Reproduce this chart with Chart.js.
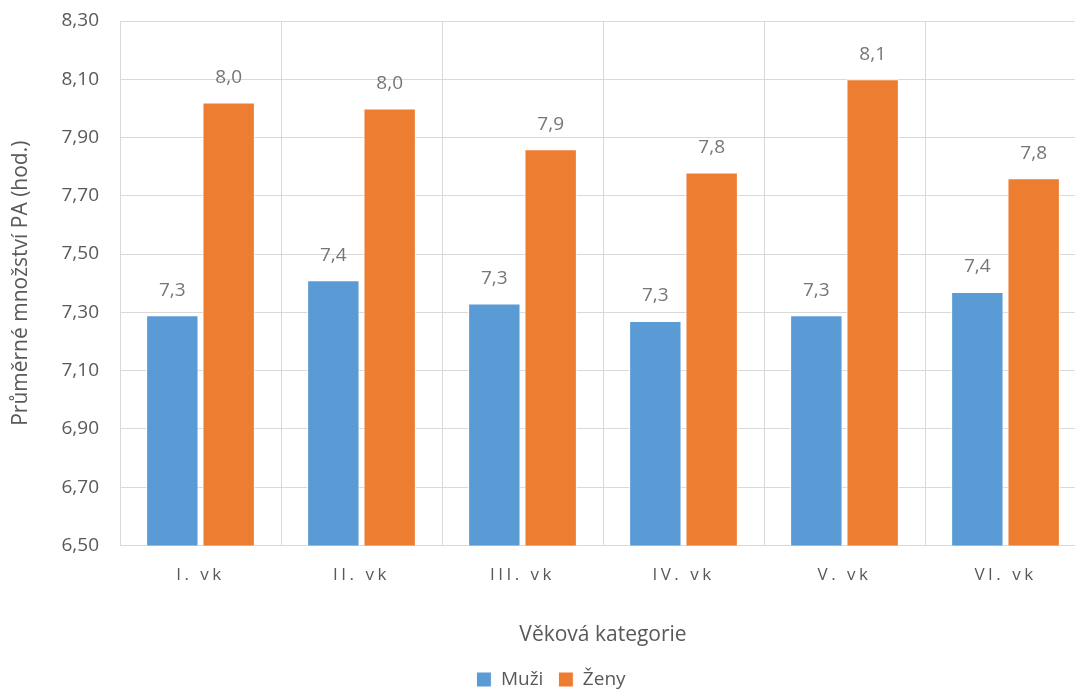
<!DOCTYPE html>
<html>
<head>
<meta charset="utf-8">
<script src="https://cdn.jsdelivr.net/npm/chart.js@4.4.1/dist/chart.umd.min.js"></script>
<style>
  html, body { margin: 0; padding: 0; background: #fff; overflow: hidden; }
  #wrap { width: 1090px; height: 699px; }
</style>
</head>
<body>
<div id="wrap"><canvas id="chart"></canvas></div>
<script>
const categories = ["I. vk", "II. vk", "III. vk", "IV. vk", "V. vk", "VI. vk"];
const muzi = [7.29, 7.41, 7.33, 7.27, 7.29, 7.37];
const zeny = [8.02, 8.00, 7.86, 7.78, 8.10, 7.76];
const yTicks = [6.5, 6.7, 6.9, 7.1, 7.3, 7.5, 7.7, 7.9, 8.1, 8.3];

const textColor = "#595959";
const gridColor = "#d9d9d9";
const fontFamily = "'Open Sans', 'Noto Sans', sans-serif";

// popisky hodnot nad sloupci
const valueLabels = {
  id: "valueLabels",
  afterDatasetsDraw(chart) {
    const ctx = chart.ctx;
    ctx.save();
    ctx.fillStyle = "#767676";
    ctx.font = "19px " + fontFamily;
    ctx.textAlign = "center";
    ctx.textBaseline = "middle";
    chart.data.datasets.forEach((ds, i) => {
      chart.getDatasetMeta(i).data.forEach((bar, j) => {
        const txt = ds.data[j].toFixed(1).replace(".", ",");
        ctx.fillText(txt, bar.x, bar.y - 25);
      });
    });
    ctx.restore();
  }
};

// proložení písmen u popisků osy x + posun legendy
const tweaks = {
  id: "tweaks",
  afterLayout(chart) {
    if (chart.legend) {
      chart.legend.left += 8;
      chart.legend.right += 8;
    }
  },
  beforeDraw(chart) {
    const sc = chart.scales.x;
    if (!sc || sc._spaced) return;
    const orig = sc.drawLabels;
    sc.drawLabels = function (area) {
      chart.ctx.save();
      chart.ctx.letterSpacing = "3.5px";
      orig.call(this, area);
      chart.ctx.restore();
    };
    sc._spaced = true;
  }
};

new Chart(document.getElementById("chart"), {
  type: "bar",
  data: {
    labels: categories,
    datasets: [
      { label: "Muži", data: muzi, backgroundColor: "#5B9BD5", borderColor: "#ffffff", borderWidth: 1 },
      { label: "Ženy", data: zeny, backgroundColor: "#ED7D31", borderColor: "#ffffff", borderWidth: 1 }
    ]
  },
  options: {
    responsive: true,
    maintainAspectRatio: false,
    animation: false,
    categoryPercentage: 0.7,
    barPercentage: 0.93,
    layout: { padding: { top: 21, right: 4, left: 0, bottom: 0 } },
    plugins: {
      tooltip: { enabled: false },
      legend: {
        position: "bottom",
        labels: {
          color: textColor,
          font: { family: fontFamily, size: 19 },
          boxWidth: 15,
          boxHeight: 15,
          padding: 15
        }
      }
    },
    scales: {
      x: {
        grid: { color: gridColor, offset: true, drawTicks: false },
        border: { color: gridColor },
        ticks: { color: textColor, font: { family: fontFamily, size: 17 }, padding: 20 },
        title: {
          display: true,
          text: "Věková kategorie",
          color: textColor,
          font: { family: fontFamily, size: 21 },
          padding: { top: 17, bottom: 7 }
        }
      },
      y: {
        min: 6.5,
        max: 8.3,
        afterBuildTicks(scale) {
          scale.ticks = yTicks.map((v) => ({ value: v }));
        },
        afterFit(scale) {
          scale.width = 120;
          scale.paddingTop = 0;
          scale.paddingBottom = 0;
        },
        grid: { color: gridColor, drawTicks: false },
        border: { color: gridColor },
        ticks: {
          color: textColor,
          font: { family: fontFamily, size: 19 },
          padding: 21,
          callback: (v) => v.toFixed(2).replace(".", ",")
        },
        title: {
          display: true,
          text: "Průměrné množství PA (hod.)",
          color: textColor,
          font: { family: fontFamily, size: 21 },
          padding: { top: 8, bottom: 4 }
        }
      }
    }
  },
  plugins: [valueLabels, tweaks]
});
</script>
</body>
</html>
